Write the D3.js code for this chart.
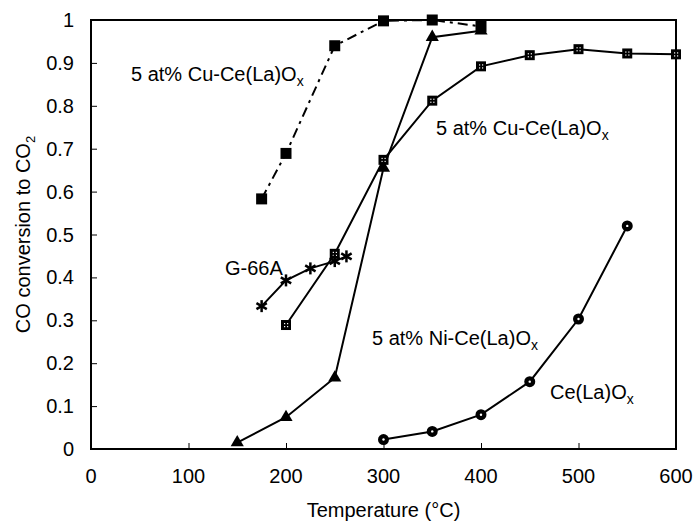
<!DOCTYPE html>
<html>
<head>
<meta charset="utf-8">
<script src="https://cdn.jsdelivr.net/npm/d3@7"></script>
<style>
  body { margin: 0; background: #fff; }
  text { font-family: "Liberation Sans", Arial, sans-serif; fill: #000; }
</style>
</head>
<body>
<div id="chart"></div>
<script>
// data
const xTicks = [0, 100, 200, 300, 400, 500, 600];
const yTicks = [0, 0.1, 0.2, 0.3, 0.4, 0.5, 0.6, 0.7, 0.8, 0.9, 1];

const cuDashT = [175, 200, 250, 300, 350, 400];
const cuDashV = [0.583, 0.689, 0.940, 0.998, 1.0, 0.985];

const cuSolidT = [200, 250, 300, 350, 400, 450, 500, 550, 600];
const cuSolidV = [0.289, 0.455, 0.674, 0.812, 0.892, 0.918, 0.932, 0.922, 0.920];

const niT = [150, 200, 250, 300, 350, 400];
const niV = [0.015, 0.074, 0.166, 0.655, 0.960, 0.975];

const g66T = [175, 200, 225, 250, 262];
const g66V = [0.333, 0.393, 0.421, 0.438, 0.449];

const ceT = [300, 350, 400, 450, 500, 550];
const ceV = [0.022, 0.041, 0.080, 0.157, 0.303, 0.520];

const width = 696, height = 524;
const margin = {left: 91, right: 20, top: 20, bottom: 75};
const fs = 20;

const svg = d3.select("#chart").append("svg")
    .attr("width", width)
    .attr("height", height);

const x = d3.scaleLinear().domain([0, 600]).range([margin.left, width - margin.right]);
const y = d3.scaleLinear().domain([0, 1]).range([height - margin.bottom, margin.top]);

//frame
svg.append("rect")
    .attr("x", x(0)).attr("y", y(1))
    .attr("width", x(600) - x(0)).attr("height", y(0) - y(1))
    .attr("fill", "none").attr("stroke", "#000").attr("stroke-width", 2);

//ticks inside the frame
const xAxis = svg.append("g")
    .attr("transform", `translate(0,${y(0)})`)
    .call(d3.axisTop(x).tickValues(xTicks).tickSize(6).tickFormat(""));
xAxis.select(".domain").remove();
xAxis.selectAll("line").attr("stroke-width", 1);

const yAxis = svg.append("g")
    .attr("transform", `translate(${x(0)},0)`)
    .call(d3.axisRight(y).tickValues(yTicks).tickSize(6).tickFormat(""));
yAxis.select(".domain").remove();
yAxis.selectAll("line").attr("stroke-width", 1);

//tick labels
svg.selectAll(".xlab").data(xTicks).enter().append("text")
    .attr("x", d => x(d)).attr("y", y(0) + 34)
    .attr("text-anchor", "middle").attr("font-size", fs)
    .text(d => d);

svg.selectAll(".ylab").data(yTicks).enter().append("text")
    .attr("x", x(0) - 17).attr("y", d => y(d) + 7)
    .attr("text-anchor", "end").attr("font-size", fs)
    .text(d => d);

//axis titles
svg.append("text")
    .attr("x", (x(0) + x(600)) / 2).attr("y", 517)
    .attr("text-anchor", "middle").attr("font-size", fs)
    .text("Temperature (°C)");

const yt = svg.append("text")
    .attr("transform", `translate(30,${(y(0) + y(1)) / 2}) rotate(-90)`)
    .attr("text-anchor", "middle").attr("font-size", fs);
yt.append("tspan").text("CO conversion to CO");
yt.append("tspan").attr("font-size", 13).attr("dy", 5).text("2");

//series
const line = d3.line().x(d => x(d[0])).y(d => y(d[1]));
const zip = (a, b) => a.map((t, i) => [t, b[i]]);

function drawLine(pts, dash) {
    svg.append("path")
        .datum(pts)
        .attr("d", line)
        .attr("fill", "none")
        .attr("stroke", "#000")
        .attr("stroke-width", 2)
        .attr("stroke-dasharray", dash || null);
}

const cuDash = zip(cuDashT, cuDashV);
const cuSolid = zip(cuSolidT, cuSolidV);
const ni = zip(niT, niV);
const g66 = zip(g66T, g66V);
const ce = zip(ceT, ceV);

drawLine(cuDash, "10,5,3,5");
drawLine(cuSolid);
drawLine(ni);
drawLine(g66);
drawLine(ce);

//filled squares
svg.selectAll(".sq").data(cuDash).enter().append("rect")
    .attr("x", d => x(d[0]) - 5.5).attr("y", d => y(d[1]) - 5.5)
    .attr("width", 11).attr("height", 11).attr("fill", "#000");

//patterned squares
const ps = svg.selectAll(".psq").data(cuSolid).enter().append("g")
    .attr("transform", d => `translate(${x(d[0])},${y(d[1])})`);
ps.append("rect").attr("x", -5).attr("y", -5).attr("width", 10).attr("height", 10).attr("fill", "#000");
[[-2, -2], [1, -2], [-2, 1], [1, 1]].forEach(o => {
    ps.append("rect").attr("x", o[0]).attr("y", o[1]).attr("width", 1.2).attr("height", 1.2).attr("fill", "#fff");
});

//triangles
svg.selectAll(".tri").data(ni).enter().append("path")
    .attr("d", d3.symbol().type(d3.symbolTriangle).size(75))
    .attr("transform", d => `translate(${x(d[0])},${y(d[1])})`)
    .attr("fill", "#000");

//asterisks
const star = svg.selectAll(".st").data(g66).enter().append("g")
    .attr("transform", d => `translate(${x(d[0])},${y(d[1])})`);
[0, 60, 120].forEach(a => {
    star.append("line")
        .attr("x1", 0).attr("y1", -6).attr("x2", 0).attr("y2", 6)
        .attr("transform", `rotate(${a})`)
        .attr("stroke", "#000").attr("stroke-width", 2.5);
});

//circles
const cc = svg.selectAll(".ci").data(ce).enter().append("g")
    .attr("transform", d => `translate(${x(d[0])},${y(d[1])})`);
cc.append("circle").attr("r", 5.5).attr("fill", "#000");
cc.append("circle").attr("r", 1.2).attr("fill", "#fff");

//series labels
function label(px, py, main, sub) {
    const t = svg.append("text").attr("x", px).attr("y", py).attr("font-size", fs);
    t.append("tspan").text(main);
    if (sub) t.append("tspan").attr("font-size", 14).attr("dy", 5).text(sub);
}
label(131, 81, "5 at% Cu-Ce(La)O", "x");
label(436, 135, "5 at% Cu-Ce(La)O", "x");
label(225, 275, "G-66A");
label(372, 345, "5 at% Ni-Ce(La)O", "x");
label(550, 399, "Ce(La)O", "x");
</script>
</body>
</html>
